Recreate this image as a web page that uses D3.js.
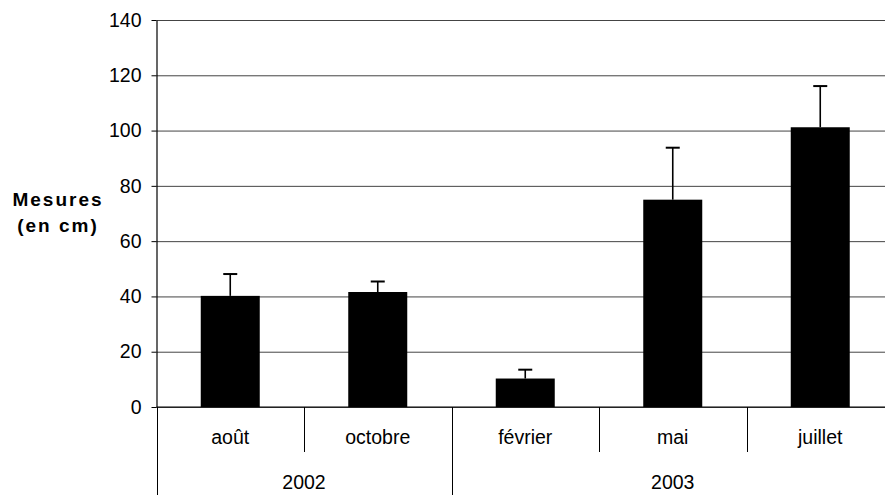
<!DOCTYPE html>
<html>
<head>
<meta charset="utf-8">
<script src="https://cdn.jsdelivr.net/npm/d3@7"></script>
<style>
  html, body { margin: 0; padding: 0; background: #fff; }
  svg { display: block; font-family: "Liberation Sans", Arial, sans-serif; }
</style>
</head>
<body>
<svg id="chart" width="885" height="495"></svg>
<script>
// Monthly measurements (cm) with their upper error bars
const months = ["août", "octobre", "février", "mai", "juillet"];
const years = ["2002", "2002", "2003", "2003", "2003"];
const yearGroups = ["2002", "2003"];
const means = [40.2, 41.6, 10.3, 75.0, 101.2];
const errors = [7.9, 3.8, 3.2, 18.8, 14.9];
const yTicks = [0, 20, 40, 60, 80, 100, 120, 140];

const svg = d3.select("#chart");
const plotLeft = 156.5, plotRight = 894, plotTop = 20, plotBottom = 407;
const fontSize = 19.5;

const x = d3.scaleBand().domain(months).range([plotLeft, plotRight])
  .paddingInner(0.6).paddingOuter(0.3);
const y = d3.scaleLinear().domain([0, 140]).range([plotBottom, plotTop]);
const step = x.step();

// horizontal gridlines
svg.append("g")
  .attr("transform", `translate(${plotLeft},0)`)
  .call(d3.axisLeft(y).tickValues(yTicks).tickSize(-(plotRight - plotLeft)).tickFormat(""))
  .call(g => g.select(".domain").remove())
  .call(g => g.selectAll("line").attr("stroke", "#444").attr("stroke-width", 1));

// bars
svg.append("g").selectAll("rect").data(months).join("rect")
  .attr("x", d => x(d))
  .attr("width", x.bandwidth())
  .attr("y", (d, i) => y(means[i]))
  .attr("height", (d, i) => y(0) - y(means[i]))
  .attr("fill", "#000");

// error bars (upper whisker + cap)
const eb = svg.append("g").attr("stroke", "#000");
months.forEach((m, i) => {
  const cx = x(m) + x.bandwidth() / 2;
  eb.append("line").attr("x1", cx).attr("x2", cx)
    .attr("y1", y(means[i])).attr("y2", y(means[i] + errors[i]))
    .attr("stroke-width", 1.6);
  eb.append("line").attr("x1", cx - 7).attr("x2", cx + 7)
    .attr("y1", y(means[i] + errors[i])).attr("y2", y(means[i] + errors[i]))
    .attr("stroke-width", 2);
});

// y axis
svg.append("g")
  .attr("transform", `translate(${plotLeft},0)`)
  .call(d3.axisLeft(y).tickValues(yTicks).tickSize(5).tickPadding(10).tickSizeOuter(0))
  .call(g => g.select(".domain").attr("stroke", "#000").attr("stroke-width", 1.2))
  .call(g => g.selectAll(".tick line").attr("stroke", "#000"))
  .call(g => g.selectAll("text").attr("font-size", fontSize).attr("fill", "#000")
    .attr("font-family", "Liberation Sans, Arial, sans-serif"));

// x axis baseline
svg.append("line").attr("x1", plotLeft).attr("x2", plotRight)
  .attr("y1", y(0)).attr("y2", y(0)).attr("stroke", "#000");

// category separators: short between months, long between years
const seps = d3.range(months.length + 1);
svg.append("g").selectAll("line").data(seps).join("line")
  .attr("x1", i => Math.round(plotLeft + i * step) + 0.5)
  .attr("x2", i => Math.round(plotLeft + i * step) + 0.5)
  .attr("y1", plotBottom)
  .attr("y2", i => (i === 0 || i === months.length || years[i] !== years[i - 1]) ? 495 : 452)
  .attr("stroke", "#000");

// month labels
svg.append("g").selectAll("text").data(months).join("text")
  .attr("x", d => x(d) + x.bandwidth() / 2)
  .attr("y", 444)
  .attr("text-anchor", "middle")
  .attr("font-size", fontSize)
  .text(d => d);

// year labels centred on their months
yearGroups.forEach(yr => {
  const idx = years.map((v, i) => v === yr ? i : -1).filter(i => i >= 0);
  const x0 = plotLeft + idx[0] * step, x1 = plotLeft + (idx[idx.length - 1] + 1) * step;
  svg.append("text")
    .attr("x", (x0 + x1) / 2).attr("y", 489)
    .attr("text-anchor", "middle").attr("font-size", fontSize)
    .text(yr);
});

// y axis title
const title = svg.append("text")
  .attr("text-anchor", "middle")
  .attr("font-size", 19).attr("font-weight", "bold")
  .attr("letter-spacing", 2);
title.append("tspan").attr("x", 58).attr("y", 206).text("Mesures");
title.append("tspan").attr("x", 58).attr("y", 232).text("(en cm)");
</script>
</body>
</html>
